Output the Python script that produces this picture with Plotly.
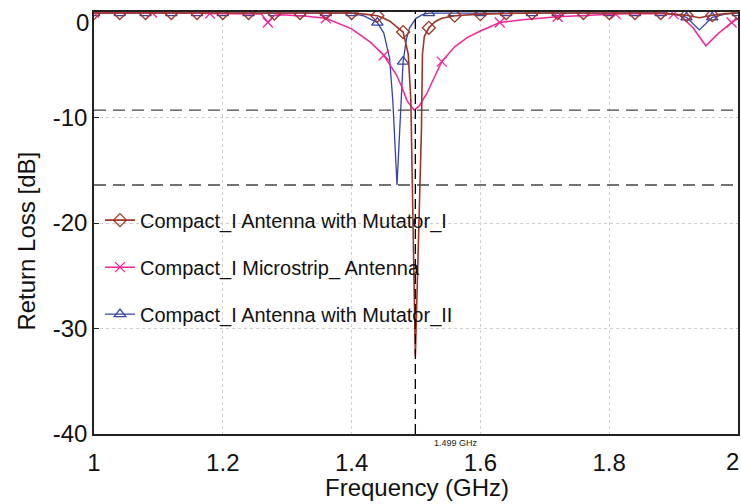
import plotly.graph_objects as go

# ---------------- data ----------------
# Compact_I Antenna with Mutator_I  (brown, diamonds)
freq_mut1 = [1.00, 1.04, 1.08, 1.12, 1.16, 1.20, 1.24, 1.28, 1.32, 1.36, 1.40, 1.42,
             1.44, 1.45, 1.46, 1.47, 1.48, 1.488, 1.492, 1.499, 1.5085, 1.510, 1.513,
             1.52, 1.53, 1.54, 1.56, 1.60, 1.64, 1.68, 1.72, 1.76, 1.80, 1.84, 1.88,
             1.90, 1.92, 1.94, 1.96, 1.98, 2.00]
rl_mut1 = [-0.1, -0.1, -0.1, -0.1, -0.1, -0.1, -0.1, -0.15, -0.1, -0.1, -0.1, -0.2,
           -0.35, -0.6, -0.9, -1.4, -1.9, -4.0, -8.4, -32.6, -11.0, -4.0, -2.3,
           -1.5, -0.9, -0.6, -0.35, -0.2, -0.12, -0.1, -0.1, -0.1, -0.1, -0.1, -0.1,
           -0.2, -0.3, -0.55, -0.3, -0.15, -0.1]

# Compact_I Microstrip_ Antenna  (pink, crosses)
freq_micro = [1.00, 1.09, 1.18, 1.25, 1.26, 1.27, 1.28, 1.29, 1.33, 1.36, 1.40, 1.43,
              1.45, 1.47, 1.478, 1.486, 1.497, 1.505, 1.517, 1.53, 1.54, 1.56, 1.58,
              1.60, 1.63, 1.67, 1.72, 1.77, 1.81, 1.87, 1.90, 1.91, 1.93, 1.95, 1.97,
              1.99, 2.00]
rl_micro = [-0.05, -0.05, -0.15, -0.15, -0.2, -1.0, -0.3, -0.25, -0.4, -0.6, -1.6, -2.9,
            -4.1, -6.0, -7.1, -8.4, -9.3, -8.9, -7.7, -6.0, -4.7, -3.3, -2.4,
            -1.8, -1.0, -0.7, -0.45, -0.3, -0.2, -0.15, -0.2, -0.3, -1.5, -3.2, -2.0,
            -1.0, -0.6]

# Compact_I Antenna with Mutator_II  (blue, triangles)
freq_mut2 = [1.00, 1.04, 1.08, 1.12, 1.16, 1.20, 1.24, 1.28, 1.32, 1.36, 1.40, 1.42,
             1.44, 1.45, 1.459, 1.464, 1.4705, 1.477, 1.48, 1.485, 1.49, 1.50, 1.51,
             1.52, 1.56, 1.60, 1.64, 1.68, 1.72, 1.76, 1.80, 1.84, 1.88, 1.90, 1.92,
             1.94, 1.96, 1.98, 2.00]
rl_mut2 = [-0.1, -0.1, -0.1, -0.1, -0.1, -0.1, -0.1, -0.1, -0.1, -0.1, -0.1, -0.4,
           -1.0, -2.0, -4.4, -8.4, -16.4, -8.4, -4.7, -2.6, -1.5, -0.6, -0.25,
           -0.1, -0.1, -0.1, -0.1, -0.1, -0.1, -0.1, -0.1, -0.1, -0.1, -0.2, -0.5,
           -1.7, -0.5, -0.2, -0.1]

# marker positions along the curves (GHz)
marker_freq_mut = [1.00, 1.04, 1.08, 1.12, 1.16, 1.20, 1.24, 1.28, 1.32, 1.36, 1.40, 1.44,
                   1.48, 1.52, 1.56, 1.60, 1.64, 1.68, 1.72, 1.76, 1.80, 1.84, 1.88, 1.92,
                   1.96, 2.00]
marker_freq_micro = [1.00, 1.09, 1.18, 1.27, 1.36, 1.45, 1.54, 1.63, 1.72, 1.81, 1.90, 1.99]

# reference levels / marker line
ref_levels_db = [-9.3, -16.4]
resonance_ghz = 1.499
resonance_label = "1.499 GHz"

x_ticks = [1, 1.2, 1.4, 1.6, 1.8, 2]
x_ticklabels = ["1", "1.2", "1.4", "1.6", "1.8", "2"]
y_ticks = [0, -10, -20, -30, -40]
y_ticklabels = ["0", "-10", "-20", "-30", "-40"]

names = ["Compact_I Antenna with Mutator_I", "Compact_I Microstrip_ Antenna",
         "Compact_I Antenna with Mutator_II"]

# ---------------- styling ----------------
FONT = "Liberation Sans, Arial, Helvetica, sans-serif"
TXT = "#111111"
C_BROWN = "#9e3526"
C_PINK = "#f0259a"
C_BLUE = "#3644a8"


def pick(freqs, vals, marks):
    xs, ys = [], []
    for f, v in zip(freqs, vals):
        if any(abs(f - m) < 1e-9 for m in marks):
            xs.append(f)
            ys.append(v)
    return xs, ys


series = [
    (names[0], freq_mut1, rl_mut1, marker_freq_mut, C_BROWN, "diamond-open", 10, 1.6),
    (names[1], freq_micro, rl_micro, marker_freq_micro, C_PINK, "x-thin-open", 10, 1.5),
    (names[2], freq_mut2, rl_mut2, marker_freq_mut, C_BLUE, "triangle-up-open", 10, 1.3),
]

fig = go.Figure()
draw_order = [2, 1, 0]
for i in draw_order:
    name, fx, fy, marks, col, sym, msz, lw = series[i]
    fig.add_trace(go.Scatter(x=fx, y=fy, mode="lines", line=dict(color=col, width=lw),
                             showlegend=False, legendgroup=name, hoverinfo="skip"))
    mx, my = pick(fx, fy, marks)
    fig.add_trace(go.Scatter(x=mx, y=my, mode="markers",
                             marker=dict(symbol=sym, size=msz, color=col,
                                         line=dict(color=col, width=1.3)),
                             showlegend=False, legendgroup=name))
for i, (name, fx, fy, marks, col, sym, msz, lw) in enumerate(series):
    fig.add_trace(go.Scatter(x=[None], y=[None], mode="lines+markers", name=name,
                             legendgroup=name, legendrank=i + 1,
                             line=dict(color=col, width=lw),
                             marker=dict(symbol=sym, size=msz, color=col,
                                         line=dict(color=col, width=1.3))))

for lvl in ref_levels_db:
    fig.add_shape(type="line", xref="paper", x0=0, x1=1, yref="y", y0=lvl, y1=lvl,
                  line=dict(color="#444444", width=1.3, dash="12px,7px"))
fig.add_shape(type="line", xref="x", x0=resonance_ghz, x1=resonance_ghz, yref="paper",
              y0=0, y1=1, line=dict(color="#000000", width=1.3, dash="10px,5px"))

fig.add_annotation(x=resonance_ghz, xref="x", y=0, yref="paper", text=resonance_label,
                   showarrow=False, xanchor="left", yanchor="top", xshift=17, yshift=-2,
                   font=dict(family=FONT, size=9, color="#222222"))

fig.add_annotation(text="Frequency (GHz)", xref="paper", yref="paper", x=0.502, y=-0.163,
                   xanchor="center", yanchor="bottom", showarrow=False,
                   font=dict(family=FONT, size=24, color=TXT))
fig.add_annotation(text="Return Loss [dB]", xref="paper", yref="paper", x=-0.104, y=0.456,
                   xanchor="center", yanchor="middle", textangle=-90, showarrow=False,
                   font=dict(family=FONT, size=24, color=TXT))

# edge tick labels kept fully inside the picture (drawn as annotations)
fig.add_annotation(text=y_ticklabels[0], xref="paper", yref="paper", x=0, y=1,
                   xanchor="right", yanchor="top", xshift=-3, yshift=5, showarrow=False,
                   font=dict(family=FONT, size=24, color=TXT))
fig.add_annotation(text=x_ticklabels[-1], xref="paper", yref="paper", x=1, y=0,
                   xanchor="right", yanchor="top", xshift=3, yshift=-12, showarrow=False,
                   font=dict(family=FONT, size=24, color=TXT))
x_axis_text = x_ticklabels[:-1] + [""]
y_axis_text = [""] + y_ticklabels[1:]

fig.update_xaxes(range=[1, 2], tickvals=x_ticks, ticktext=x_axis_text, automargin=False,
                 showgrid=True, gridcolor="#cfcfcf", griddash="dot", gridwidth=1,
                 zeroline=False, showline=True, linecolor="#222222", linewidth=1.5,
                 mirror=True, ticks="", ticklabelstandoff=6, ticklabeloverflow="allow",
                 tickfont=dict(family=FONT, size=24, color=TXT))
fig.update_yaxes(range=[-40, 0], tickvals=y_ticks, ticktext=y_axis_text, automargin=False,
                 showgrid=True, gridcolor="#cfcfcf", griddash="dot", gridwidth=1,
                 zeroline=False, showline=True, linecolor="#222222", linewidth=1.5,
                 mirror=True, ticks="inside", ticklen=5, tickcolor="#222222",
                 ticklabeloverflow="allow",
                 tickfont=dict(family=FONT, size=24, color=TXT))

fig.update_layout(
    width=741, height=504,
    margin=dict(l=94, r=3, t=12, b=70),
    paper_bgcolor="white", plot_bgcolor="white",
    showlegend=True,
    legend=dict(x=0.0093, y=0.553, xanchor="left", yanchor="top",
                bgcolor="rgba(0,0,0,0)", borderwidth=0,
                font=dict(family=FONT, size=20, color=TXT),
                traceorder="grouped", tracegroupgap=18, itemwidth=30),
)

fig.write_html("out.html")
